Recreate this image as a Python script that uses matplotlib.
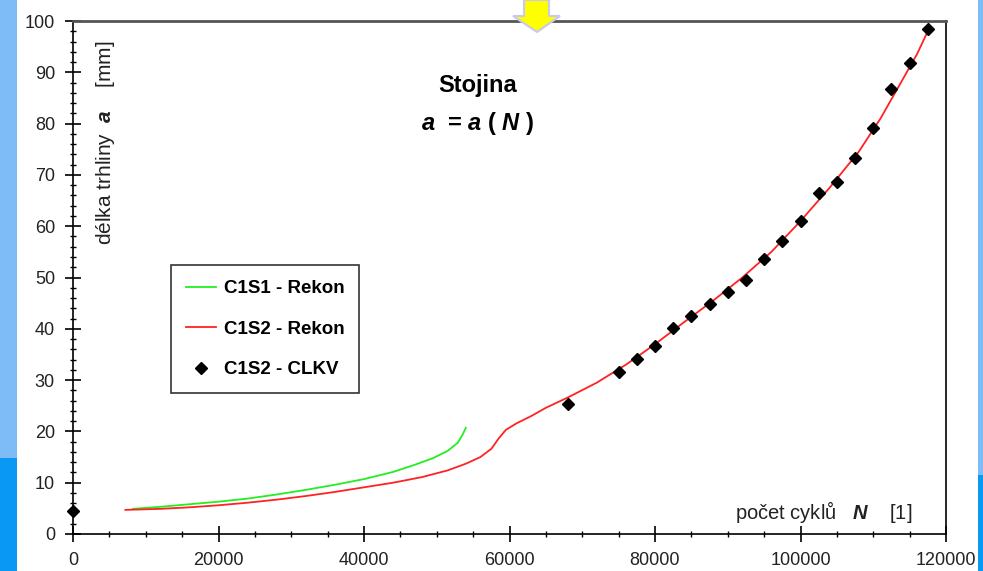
import matplotlib.pyplot as plt
import matplotlib.patches as mpatches
from matplotlib.ticker import MultipleLocator

plt.rcParams['font.family'] = ['Liberation Sans', 'DejaVu Sans']
plt.rcParams['mathtext.fontset'] = 'custom'
plt.rcParams['mathtext.bfit'] = 'Liberation Sans:bold:italic'
plt.rcParams['mathtext.rm'] = 'Liberation Sans'

# C1S1 - Rekon (green curve)
n_c1s1 = [8200, 12000, 16000, 20000, 24000, 28000, 32000, 36000, 40000,
          44000, 47000, 49500, 51500, 52900, 53600, 54000]
a_c1s1 = [4.9, 5.3, 5.8, 6.3, 6.9, 7.7, 8.6, 9.6, 10.7,
          12.1, 13.5, 14.8, 16.2, 17.8, 19.5, 20.7]

# C1S2 - Rekon (red curve)
n_c1s2 = [7200, 12000, 16000, 20000, 24000, 28000, 32000, 36000, 40000,
          44000, 48000, 51500, 54000, 56000, 57500, 58500, 59500, 61000,
          63000, 65000, 68000, 72000, 76000, 80000, 84000, 88000, 92000,
          96000, 100000, 104000, 108000, 111000, 114000, 116000, 117500]
a_c1s2 = [4.7, 4.9, 5.2, 5.6, 6.1, 6.7, 7.4, 8.2, 9.1,
          10.0, 11.1, 12.4, 13.7, 15.0, 16.6, 18.6, 20.3, 21.6,
          23.0, 24.6, 26.6, 29.5, 33.0, 37.0, 41.3, 45.5, 50.0,
          55.0, 61.0, 67.5, 74.5, 81.0, 88.5, 93.5, 98.0]

# C1S2 - CLKV (diamonds)
n_clkv = [0, 68000, 75000, 77500, 80000, 82500, 85000, 87500, 90000, 92500,
          95000, 97500, 100000, 102500, 105000, 107500, 110000, 112500,
          115000, 117500]
a_clkv = [4.4, 25.4, 31.5, 34.2, 36.6, 40.1, 42.5, 44.9, 47.2, 49.6,
          53.7, 57.1, 61.0, 66.5, 68.7, 73.2, 79.2, 86.7, 91.8, 98.4]

fig = plt.figure(figsize=(9.83, 5.71), dpi=100)

# slide background strips at the edges
light = '#7dbcf7'
dark = '#0a98f5'
fig.patches.append(mpatches.Rectangle((0, 0.198), 17 / 983, 0.802, transform=fig.transFigure,
                                      facecolor=light, edgecolor='none', zorder=0))
fig.patches.append(mpatches.Rectangle((0, 0), 17 / 983, 0.198, transform=fig.transFigure,
                                      facecolor=dark, edgecolor='none', zorder=0))
fig.patches.append(mpatches.Rectangle((978 / 983, 0.168), 5 / 983, 0.832, transform=fig.transFigure,
                                      facecolor=light, edgecolor='none', zorder=0))
fig.patches.append(mpatches.Rectangle((978 / 983, 0), 5 / 983, 0.168, transform=fig.transFigure,
                                      facecolor=dark, edgecolor='none', zorder=0))

ax = fig.add_axes([73 / 983, 1 - 534 / 571, 873 / 983, 513 / 571])

ax.plot(n_c1s1, a_c1s1, color='#22ee22', lw=1.3, label='C1S1 - Rekon')
ax.plot(n_c1s2, a_c1s2, color='#ff2222', lw=1.3, label='C1S2 - Rekon')
ax.plot(n_clkv, a_clkv, linestyle='none', marker='D', markersize=6.5,
        color='black', label='C1S2 - CLKV', clip_on=False, zorder=5)

ax.set_xlim(0, 120000)
ax.set_ylim(0, 100)
ax.xaxis.set_major_locator(MultipleLocator(20000))
ax.xaxis.set_minor_locator(MultipleLocator(5000))
ax.yaxis.set_major_locator(MultipleLocator(10))
ax.yaxis.set_minor_locator(MultipleLocator(2))
ax.tick_params(which='major', direction='inout', length=12, width=1.2,
               labelsize=13, labelcolor='#222222')
ax.tick_params(which='minor', direction='inout', length=5, width=1)
ax.tick_params(axis='x', which='major', pad=7)
ax.tick_params(axis='y', which='major', pad=7)
for side in ['left', 'bottom', 'right']:
    ax.spines[side].set_linewidth(1.2)
ax.spines['top'].set_linewidth(2)
ax.spines['top'].set_color('#555555')

ax.text(0.463, 0.875, 'Stojina', transform=ax.transAxes, ha='center', va='center',
        fontsize=17, fontweight='bold')
ax.text(0.463, 0.8, r'$\mathbfit{a}$  = $\mathbfit{a}$ ( $\mathbfit{N}$ )', transform=ax.transAxes,
        ha='center', va='center', fontsize=17, fontweight='bold')

ax.text(0.037, 0.963, r'délka trhliny  $\mathbfit{a}$    [mm]', transform=ax.transAxes,
        rotation=90, ha='center', va='top', fontsize=15, color='#222222')
ax.text(0.961, 0.043, r'počet cyklů   $\mathbfit{N}$    [1]', transform=ax.transAxes,
        ha='right', va='center', fontsize=14.5, color='#222222')

leg = ax.legend(loc='upper left', bbox_to_anchor=(98 / 873, 1 - 244 / 513), borderaxespad=0,
                prop={'weight': 'bold', 'size': 13.5}, frameon=True, fancybox=False,
                edgecolor='#333333', framealpha=1, handlelength=1.6,
                labelspacing=1.25, borderpad=0.8, handletextpad=0.4)
leg.get_frame().set_linewidth(1.2)

# yellow arrow at top
arrow = mpatches.Polygon([(524, 0), (549, 0), (549, 16), (560, 16), (537, 32), (513, 16), (524, 16)],
                         closed=True, facecolor='#ffff00', edgecolor='#c8c8f0', lw=1.5,
                         transform=fig.transFigure, zorder=10)
arrow.set_xy([(x / 983, 1 - y / 571) for x, y in arrow.get_xy()])
fig.patches.append(arrow)

fig.savefig('out.png', dpi=100)
